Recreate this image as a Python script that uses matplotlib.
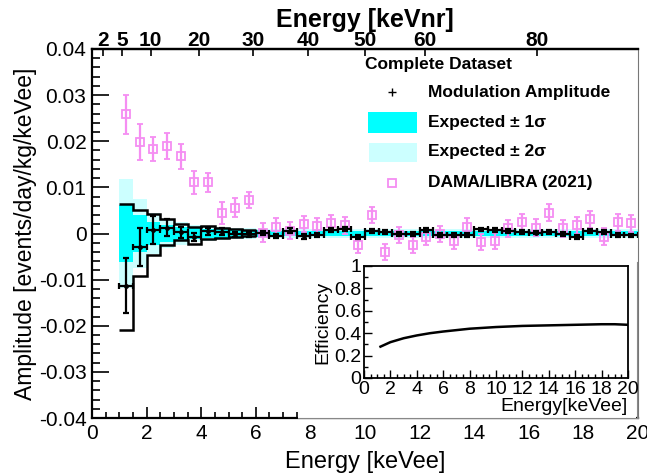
import matplotlib
matplotlib.use('Agg')
import matplotlib.pyplot as plt
from matplotlib.patches import Rectangle
from matplotlib.lines import Line2D
from matplotlib.ticker import MultipleLocator, FixedLocator

plt.rcParams['font.family'] = ['Liberation Sans', 'DejaVu Sans']

# energy bin centres [keVee], 0.5 keV bins
energy = [1.25, 1.75, 2.25, 2.75, 3.25, 3.75, 4.25, 4.75, 5.25, 5.75,
          6.25, 6.75, 7.25, 7.75, 8.25, 8.75, 9.25, 9.75, 10.25, 10.75,
          11.25, 11.75, 12.25, 12.75, 13.25, 13.75, 14.25, 14.75, 15.25, 15.75,
          16.25, 16.75, 17.25, 17.75, 18.25, 18.75, 19.25, 19.75]
bin_half = 0.25

# modulation amplitude (this work)
amp = [-0.0113, -0.0029, 0.0007, 0.0013, 0.0003, -0.0008, 0.0005, 0.0004, -0.0002, -0.0002,
       0.0001, -0.0005, 0.0006, -0.0006, -0.0003, 0.0008, 0.0010, -0.0007, 0.0006, 0.0003,
       -0.0001, -0.0001, 0.0008, -0.0003, -0.0003, -0.0003, 0.0009, 0.0008, 0.0006, 0.0003,
       0.0002, 0.0003, -0.0001, -0.0008, 0.0006, 0.0004, -0.0003, -0.0004]
amp_err = [0.0059, 0.0041, 0.0030, 0.0019, 0.0012, 0.0009, 0.0008, 0.0007, 0.0006, 0.0006,
           0.0005, 0.0005, 0.0005, 0.0005, 0.0004, 0.0004, 0.0004, 0.0004, 0.0004, 0.0004,
           0.0004, 0.0004, 0.0004, 0.0004, 0.0004, 0.0004, 0.0004, 0.0004, 0.0004, 0.0004,
           0.0004, 0.0004, 0.0004, 0.0004, 0.0004, 0.0004, 0.0004, 0.0004]

# expected +-1 sigma / +-2 sigma half widths
sig1 = [0.0062, 0.0040, 0.0026, 0.0019, 0.0015, 0.0012, 0.0010, 0.0009, 0.0008, 0.0007,
        0.0007, 0.0006, 0.0006, 0.0006, 0.0006, 0.0006, 0.0006, 0.0006, 0.0006, 0.0006,
        0.0006, 0.0006, 0.0006, 0.0006, 0.0006, 0.0006, 0.0006, 0.0006, 0.0006, 0.0006,
        0.0006, 0.0006, 0.0006, 0.0006, 0.0006, 0.0006, 0.0006, 0.0006]
sig2 = [0.0118, 0.0074, 0.0045, 0.0032, 0.0025, 0.0019, 0.0016, 0.0014, 0.0012, 0.0011,
        0.0010, 0.0009, 0.0009, 0.0009, 0.0009, 0.0009, 0.0009, 0.0009, 0.0009, 0.0009,
        0.0009, 0.0009, 0.0009, 0.0009, 0.0009, 0.0009, 0.0009, 0.0009, 0.0009, 0.0009,
        0.0009, 0.0009, 0.0009, 0.0009, 0.0009, 0.0009, 0.0009, 0.0009]

# black step envelope at low energy
env_edges = [1.0, 1.5, 2.0, 2.5, 3.0, 3.5, 4.0, 4.5, 5.0, 5.5, 6.0]
env_upper = [0.0063, 0.0052, 0.0042, 0.0032, 0.0021, 0.0015, 0.0016, 0.0012, 0.0009, 0.0008]
env_lower = [-0.0210, -0.0092, -0.0047, -0.0025, -0.0015, -0.0023, -0.0011, -0.0009, -0.0007, -0.0006]

# DAMA/LIBRA (2021)
dama = [0.0258, 0.0198, 0.0183, 0.0189, 0.0167, 0.0111, 0.0111, 0.0044, 0.0056, 0.0073,
        0.0002, 0.0015, 0.0006, 0.0021, 0.0016, 0.0022, 0.0018, -0.0025, 0.0040, -0.0040,
        -0.0003, -0.0025, -0.0008, -0.0001, -0.0016, 0.0015, -0.0018, -0.0016, 0.0011, 0.0024,
        0.0013, 0.0045, 0.0011, 0.0018, 0.0031, -0.0007, 0.0024, 0.0022]
dama_err = [0.0042, 0.0039, 0.0026, 0.0028, 0.0027, 0.0025, 0.0021, 0.0024, 0.0020, 0.0017,
            0.0020, 0.0019, 0.0018, 0.0018, 0.0018, 0.0018, 0.0018, 0.0018, 0.0018, 0.0018,
            0.0018, 0.0018, 0.0018, 0.0018, 0.0018, 0.0018, 0.0018, 0.0018, 0.0018, 0.0018,
            0.0018, 0.0018, 0.0018, 0.0018, 0.0018, 0.0018, 0.0018, 0.0018]

# nuclear recoil energy axis (top)
nr_labels = ['2', '5', '10', '20', '30', '40', '50', '60', '80']
nr_pos = [0.39, 1.11, 2.15, 3.93, 5.89, 7.92, 10.0, 12.2, 16.3]

# efficiency inset
eff_energy = [1.25, 2, 3, 4, 5, 6, 8, 10, 12, 14, 16, 18, 19, 20]
eff = [0.28, 0.32, 0.355, 0.38, 0.40, 0.415, 0.44, 0.455, 0.465, 0.47, 0.475, 0.48, 0.48, 0.475]

PINK = '#f58ef2'
W, H = 647, 476

fig = plt.figure(figsize=(6.47, 4.76), dpi=100)


def fbox(x0, y0, x1, y1):
    # pixel box (top-left origin) -> figure rect
    return [x0 / W, 1 - y1 / H, (x1 - x0) / W, (y1 - y0) / H]


ax = fig.add_axes(fbox(92, 49, 638, 418))
ax.set_xlim(0, 20)
ax.set_ylim(-0.04, 0.04)

# expected bands
ax.bar(energy, [2 * s for s in sig2], bottom=[-s for s in sig2], width=0.5,
       color='#ccffff', linewidth=0, zorder=1)
ax.bar(energy, [2 * s for s in sig1], bottom=[-s for s in sig1], width=0.5,
       color='#00ffff', linewidth=0, zorder=2)
ax.stairs(env_upper, env_edges, baseline=None, color='black', lw=1.8, zorder=3)
ax.stairs(env_lower, env_edges, baseline=None, color='black', lw=1.8, zorder=3)

ax.errorbar(energy, amp, xerr=bin_half, yerr=amp_err, fmt='o', ms=2.5, color='black',
            elinewidth=1.6, capsize=2.5, capthick=1.6, zorder=5)
ax.errorbar(energy, dama, yerr=dama_err, fmt='s', ms=6, mfc='none', mec=PINK, mew=1.3,
            color=PINK, elinewidth=1.6, capsize=2.5, capthick=1.6, zorder=4)

# axes styling
for s in ['left', 'bottom', 'top']:
    ax.spines[s].set_linewidth(1.6)
ax.spines['right'].set_color('#777777')
ax.spines['right'].set_linewidth(0.8)
ax.spines['right'].set_zorder(5)
ax.xaxis.set_major_locator(MultipleLocator(2))
ax.xaxis.set_minor_locator(MultipleLocator(0.5))
ax.yaxis.set_major_locator(MultipleLocator(0.01))
ax.yaxis.set_minor_locator(MultipleLocator(0.002))
ax.tick_params(axis='both', which='both', direction='in', labelsize=15, width=1.2)
ax.tick_params(axis='x', which='major', length=8, pad=4)
ax.tick_params(axis='x', which='minor', length=4)
ax.tick_params(axis='y', which='major', length=12, pad=4)
ax.tick_params(axis='y', which='minor', length=6)
ax.set_yticks([-0.04, -0.03, -0.02, -0.01, 0, 0.01, 0.02, 0.03, 0.04])
ax.set_yticklabels(['-0.04', '-0.03', '-0.02', '-0.01', '0', '0.01', '0.02', '0.03', '0.04'])
ax.set_xlabel('Energy [keVee]', fontsize=17, labelpad=6)
ax.set_ylabel('Amplitude [events/day/kg/keVee]', fontsize=16.5, labelpad=1)

top = ax.twiny()
top.set_xlim(0, 20)
top.xaxis.set_major_locator(FixedLocator(nr_pos))
top.set_xticklabels(nr_labels, fontweight='bold', fontsize=15)
top.xaxis.set_minor_locator(FixedLocator([]))
top.tick_params(axis='x', direction='in', length=5, width=1.2, pad=-1)
for s in ['left', 'bottom', 'right']:
    top.spines[s].set_visible(False)
top.spines['top'].set_linewidth(1.6)
top.set_xlabel('Energy [keVnr]', fontsize=18, fontweight='bold', labelpad=3)

# legend drawn by hand
ax.text(0.5, 0.959, 'Complete Dataset', transform=ax.transAxes, fontsize=12.5,
        fontweight='bold', va='center', ha='left')
ax.plot([0.549], [0.883], '+', color='black', ms=6, mew=1, transform=ax.transAxes)
ax.add_patch(Rectangle((0.5055, 0.772), 0.0895, 0.057, transform=ax.transAxes,
                       facecolor='#00ffff', edgecolor='none', zorder=6))
ax.add_patch(Rectangle((0.507, 0.694), 0.088, 0.051, transform=ax.transAxes,
                       facecolor='#ccffff', edgecolor='none', zorder=6))
ax.plot([0.549], [0.637], 's', ms=6, mfc='none', mec=PINK, mew=1.3, transform=ax.transAxes)
legend_text = ['Modulation Amplitude', 'Expected ± 1σ', 'Expected ± 2σ', 'DAMA/LIBRA (2021)']
legend_y = [0.883, 0.802, 0.721, 0.637]
for t, y in zip(legend_text, legend_y):
    ax.text(0.615, y, t, transform=ax.transAxes, fontsize=12.5, fontweight='bold',
            va='center', ha='left')

# inset pad (white, covers the lower right of the main frame)
pad = Rectangle((298 / W, 1 - 419 / H), (636 - 298) / W, (419 - 262) / H,
                transform=fig.transFigure, facecolor='white', edgecolor='none', zorder=1)
fig.patches.append(pad)
fig.lines.append(Line2D([298 / W, 638 / W], [1 - 418 / H, 1 - 418 / H],
                        transform=fig.transFigure, color='#888888', lw=0.8, zorder=1.5))
fig.lines.append(Line2D([637 / W, 637 / W], [1 - 418 / H, 1 - 262 / H],
                        transform=fig.transFigure, color='#888888', lw=0.8, zorder=1.5))

ins = fig.add_axes(fbox(364, 266, 628, 378))
ins.set_zorder(2)
ins.plot(eff_energy, eff, color='black', lw=1.8)
ins.set_xlim(0, 20)
ins.set_ylim(0, 1)
ins.xaxis.set_major_locator(MultipleLocator(2))
ins.xaxis.set_minor_locator(MultipleLocator(0.5))
ins.yaxis.set_major_locator(MultipleLocator(0.2))
ins.yaxis.set_minor_locator(MultipleLocator(0.1))
ins.tick_params(axis='both', which='both', direction='in', labelsize=14, width=1, pad=2)
ins.tick_params(which='major', length=6)
ins.tick_params(which='minor', length=3)
ins.set_yticks([0, 0.2, 0.4, 0.6, 0.8, 1])
ins.set_yticklabels(['0', '0.2', '0.4', '0.6', '0.8', '1'])
for s in ins.spines.values():
    s.set_linewidth(1.3)
ins.set_xlabel('Energy[keVee]', fontsize=14, labelpad=0, loc='right')
ins.set_ylabel('Efficiency', fontsize=14, labelpad=2)

fig.savefig('out.png', dpi=100)
